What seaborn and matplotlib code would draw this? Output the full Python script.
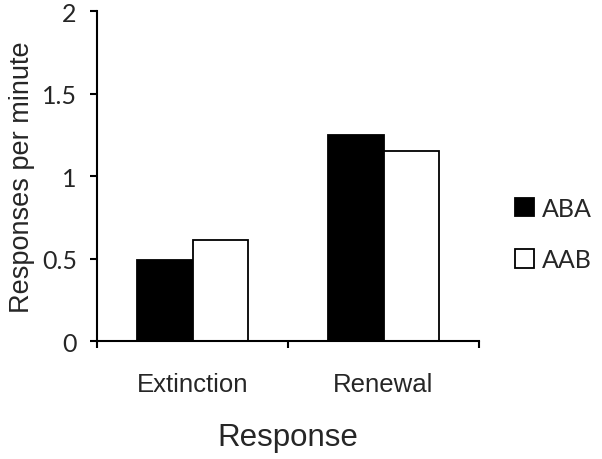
import matplotlib
matplotlib.use("Agg")
import matplotlib.pyplot as plt
import seaborn as sns
import pandas as pd

# values
phases = ["Extinction", "Renewal"]
groups = ["ABA", "AAB"]
aba_rate = [0.49, 1.25]
aab_rate = [0.61, 1.15]
y_ticks = [0, 0.5, 1, 1.5, 2]
y_tick_labels = ["0", "0.5", "1", "1.5", "2"]

df = pd.DataFrame({
    "Response": phases * 2,
    "Group": [groups[0]] * 2 + [groups[1]] * 2,
    "Rate": aba_rate + aab_rate,
})

sns.set_style("ticks")
plt.rcParams["font.family"] = ["Liberation Sans", "DejaVu Sans"]

fig = plt.figure(figsize=(6.02, 4.60), dpi=100)
ax = fig.add_axes([97 / 602, 1 - 342 / 460, (479 - 97) / 602, (342 - 12) / 460])

sns.barplot(data=df, x="Response", y="Rate", hue="Group", order=phases,
            hue_order=groups, palette=["black", "white"], width=0.58,
            edgecolor="black", linewidth=1.3, ax=ax)

ax.set_xlim(-0.5, 1.5)
ax.set_ylim(0, 2)
ax.set_yticks(y_ticks, y_tick_labels)
for lab in ax.get_yticklabels():
    lab.set_fontfamily(["Lato", "DejaVu Sans"])
    lab.set_fontsize(18)
ax.tick_params(axis="y", length=5, width=1.5, pad=9.5, color="black")

# category labels at centres, tick marks on the category boundaries
ax.tick_params(axis="x", which="major", length=0, pad=22, labelsize=18.5)
ax.set_xticks([-0.5, 0.5, 1.5], minor=True)
ax.tick_params(axis="x", which="minor", length=5, width=1.5, color="black")

ax.set_xlabel("Response", fontsize=22.5, labelpad=19)
ax.set_ylabel("Responses per minute", fontsize=19.5, labelpad=5)

sns.despine(ax=ax)
for side in ["left", "bottom"]:
    ax.spines[side].set_linewidth(1.5)
    ax.spines[side].set_color("black")

handles, labels = ax.get_legend_handles_labels()
ax.legend(handles, labels, loc="center left",
          bbox_to_anchor=(515 / 602, 1 - 235 / 460),
          bbox_transform=fig.transFigure, borderaxespad=0, borderpad=0,
          frameon=False, handlelength=0.76, handleheight=0.76,
          handletextpad=0.3, labelspacing=1.15,
          prop={"family": ["Lato", "DejaVu Sans"], "size": 18})

fig.savefig("out.png", dpi=100)
